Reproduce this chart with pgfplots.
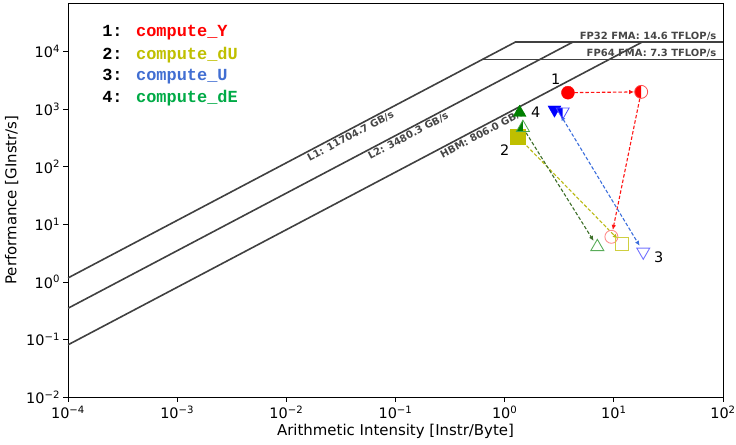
\documentclass[border=0pt]{standalone}
\usepackage{fontspec}
\setmainfont{DejaVu Sans}
\newfontfamily\monofont{Liberation Mono}
\usepackage{pgfplots}
\pgfplotsset{compat=1.18}
\usetikzlibrary{arrows.meta}

\definecolor{cr}{RGB}{255,0,0}
\definecolor{cy}{RGB}{191,191,0}
\definecolor{cb}{RGB}{0,0,255}
\definecolor{cg}{RGB}{0,128,0}
\definecolor{roof}{RGB}{64,64,64}
\definecolor{rooftxt}{RGB}{70,70,70}
\definecolor{lblue}{RGB}{65,110,210}
\definecolor{lgreen}{RGB}{0,170,70}
\definecolor{ared}{RGB}{255,20,20}
\definecolor{ablue}{RGB}{60,110,220}
\definecolor{agreen}{RGB}{60,110,40}
\definecolor{ayel}{RGB}{185,185,20}

% left half filled circle
\pgfdeclareplotmark{lhalfcircle}{%
  \pgfpathmoveto{\pgfpoint{0pt}{\pgfplotmarksize}}%
  \pgfpatharc{90}{270}{\pgfplotmarksize}%
  \pgfpathclose
  \pgfusepathqfill
  \pgfpathcircle{\pgfpointorigin}{\pgfplotmarksize}%
  \pgfusepathqstroke
}
% left half filled up triangle
\pgfdeclareplotmark{lhalftriangle}{%
  \pgfpathmoveto{\pgfpoint{0pt}{\pgfplotmarksize}}%
  \pgfpathlineto{\pgfpoint{-0.866\pgfplotmarksize}{-0.5\pgfplotmarksize}}%
  \pgfpathlineto{\pgfpoint{0pt}{-0.5\pgfplotmarksize}}%
  \pgfpathclose
  \pgfusepathqfill
  \pgfpathmoveto{\pgfpoint{0pt}{\pgfplotmarksize}}%
  \pgfpathlineto{\pgfpoint{-0.866\pgfplotmarksize}{-0.5\pgfplotmarksize}}%
  \pgfpathlineto{\pgfpoint{0.866\pgfplotmarksize}{-0.5\pgfplotmarksize}}%
  \pgfpathclose
  \pgfusepathqstroke
}
% left half filled down triangle
\pgfdeclareplotmark{lhalftriangledown}{%
  \pgfpathmoveto{\pgfpoint{0pt}{-\pgfplotmarksize}}%
  \pgfpathlineto{\pgfpoint{-0.866\pgfplotmarksize}{0.5\pgfplotmarksize}}%
  \pgfpathlineto{\pgfpoint{0pt}{0.5\pgfplotmarksize}}%
  \pgfpathclose
  \pgfusepathqfill
  \pgfpathmoveto{\pgfpoint{0pt}{-\pgfplotmarksize}}%
  \pgfpathlineto{\pgfpoint{-0.866\pgfplotmarksize}{0.5\pgfplotmarksize}}%
  \pgfpathlineto{\pgfpoint{0.866\pgfplotmarksize}{0.5\pgfplotmarksize}}%
  \pgfpathclose
  \pgfusepathqstroke
}

\begin{document}
\begin{tikzpicture}
\begin{axis}[name=ax,
  xmode=log, ymode=log, log basis x=10, log basis y=10,
  scale only axis, width=655bp, height=394bp,
  xmin=1e-4, xmax=1e2, ymin=1e-2, ymax=7e4,
  tick pos=left, tick align=outside,
  major tick length=4.5bp, minor tick length=2.5bp,
  every tick/.style={black, line width=0.7bp},
  xtick={1e-4,1e-3,1e-2,1e-1,1,10,100},
  xticklabels={10\textsuperscript{−4},10\textsuperscript{−3},10\textsuperscript{−2},10\textsuperscript{−1},10\textsuperscript{0},10\textsuperscript{1},10\textsuperscript{2}},
  ytick={1e-2,1e-1,1,10,100,1e3,1e4},
  yticklabels={10\textsuperscript{−2},10\textsuperscript{−1},10\textsuperscript{0},10\textsuperscript{1},10\textsuperscript{2},10\textsuperscript{3},10\textsuperscript{4}},
  xticklabel style={font=\fontsize{14.5}{16}\selectfont, yshift=-1bp},
  yticklabel style={font=\fontsize{14.5}{16}\selectfont},
  xlabel={Arithmetic Intensity [Instr/Byte]},
  ylabel={Performance [GInstr/s]},
  every axis x label/.style={at={(axis description cs:0.5,-0.0863)}, anchor=center, font=\fontsize{15}{18}\selectfont},
  every axis y label/.style={at={(axis description cs:-0.086,0.5)}, anchor=center, rotate=90, font=\fontsize{15}{18}\selectfont},
  axis line style={black, line width=0.8bp},
  clip=true,
]
% memory roofs
\addplot[roof, line width=1.6bp] coordinates {(1e-4,1.170470) (1.24739,14600)};
\addplot[roof, line width=1.6bp] coordinates {(1e-4,0.348030) (4.19504,14600)};
\addplot[roof, line width=1.6bp] coordinates {(1e-4,0.080600) (18.1141,14600)};
% compute roofs
\addplot[roof, line width=1.6bp] coordinates {(1.24739,14600) (100,14600)};
\addplot[roof, line width=1.6bp] coordinates {(0.62368,7300) (100,7300)};

% roof labels
\node[rooftxt, font=\fontsize{10}{11}\bfseries\selectfont, anchor=south east, inner sep=1.5bp] at (axis cs:90,14600) {FP32 FMA: 14.6 TFLOP/s};
\node[rooftxt, font=\fontsize{10}{11}\bfseries\selectfont, anchor=south east, inner sep=1.5bp] at (axis cs:90,7300) {FP64 FMA: 7.3 TFLOP/s};
\node[rooftxt, font=\fontsize{10}{11}\bfseries\selectfont, anchor=north, rotate=27.8, inner sep=2bp] at (axis cs:0.0365,427.2) {L1: 11704.7 GB/s};
\node[rooftxt, font=\fontsize{10}{11}\bfseries\selectfont, anchor=north, rotate=27.8, inner sep=2bp] at (axis cs:0.123,428.1) {L2: 3480.3 GB/s};
\node[rooftxt, font=\fontsize{10}{11}\bfseries\selectfont, anchor=north, rotate=27.8, inner sep=2bp] at (axis cs:0.59,475.5) {HBM: 806.0 GB/s};

% arrows
\addplot[ared, dash pattern=on 3.5bp off 2bp, line width=1.1bp, -{Latex[length=5bp,width=4.5bp]}, shorten <=6.5bp, shorten >=7bp] coordinates {(3.8,1937) (17.8,2000)};
\addplot[ared, dash pattern=on 3.5bp off 2bp, line width=1.1bp, -{Latex[length=5bp,width=4.5bp]}, shorten <=7bp, shorten >=7bp] coordinates {(17.8,2000) (9.5,6.07)};
\addplot[ayel, dash pattern=on 3.5bp off 2bp, line width=1.1bp, -{Latex[length=5bp,width=4.5bp]}, shorten <=7bp, shorten >=7bp] coordinates {(1.32,332) (12,4.58)};
\addplot[ablue, dash pattern=on 3.5bp off 2bp, line width=1.1bp, {Latex[length=5bp,width=4.5bp]}-{Latex[length=5bp,width=4.5bp]}, shorten <=5bp, shorten >=7bp] coordinates {(3.1,920) (18.6,3.33)};
\addplot[agreen, dash pattern=on 3.5bp off 2bp, line width=1.1bp, -{Latex[length=5bp,width=4.5bp]}, shorten <=6bp, shorten >=7bp] coordinates {(1.47,477) (7.06,4.06)};

% compute_Y
\addplot[only marks, mark=*, mark size=6.5bp, mark options={draw=cr, fill=cr}] coordinates {(3.8,1937)};
\addplot[only marks, mark=lhalfcircle, mark size=6.5bp, mark options={draw=cr!70, fill=cr, line width=0.8bp}] coordinates {(17.8,2000)};
\addplot[only marks, mark=o, mark size=6.5bp, mark options={draw=cr!45, line width=0.9bp}] coordinates {(9.5,6.07)};
% compute_dU
\addplot[only marks, mark=square*, mark size=7.5bp, mark options={draw=cy, fill=cy}] coordinates {(1.32,332)};
\addplot[only marks, mark=square, mark size=6.5bp, mark options={draw=cy!75, line width=1bp}] coordinates {(12,4.58)};
% compute_U
\addplot[only marks, mark=triangle*, mark size=7.5bp, mark options={draw=cb, fill=cb, rotate=180}] coordinates {(2.86,980)};
\addplot[only marks, mark=lhalftriangledown, mark size=7.5bp, mark options={draw=cb!70, fill=cb, line width=0.8bp}] coordinates {(3.4,905)};
\addplot[only marks, mark=triangle, mark size=7.5bp, mark options={draw=cb!55, line width=0.9bp, rotate=180}] coordinates {(18.6,3.33)};
% compute_dE
\addplot[only marks, mark=triangle*, mark size=7.5bp, mark options={draw=cg, fill=cg}] coordinates {(1.37,869)};
\addplot[only marks, mark=lhalftriangle, mark size=7.5bp, mark options={draw=cg!70, fill=cg, line width=0.8bp}] coordinates {(1.47,477)};
\addplot[only marks, mark=triangle, mark size=7.5bp, mark options={draw=cg!65, line width=0.9bp}] coordinates {(7.06,4.06)};

% point numbers
\node[font=\fontsize{14.5}{16}\selectfont] at (axis cs:2.94,3260) {1};
\node[font=\fontsize{14.5}{16}\selectfont] at (axis cs:1.0,198) {2};
\node[font=\fontsize{14.5}{16}\selectfont] at (axis cs:25.8,2.72) {3};
\node[font=\fontsize{14.5}{16}\selectfont] at (axis cs:1.93,869) {4};

% legend text
\node[anchor=west, inner sep=0pt, font=\monofont\bfseries\fontsize{17}{19}\selectfont] at (axis description cs:0.052,0.924) {1: \textcolor{cr}{compute\_Y}};
\node[anchor=west, inner sep=0pt, font=\monofont\bfseries\fontsize{17}{19}\selectfont] at (axis description cs:0.052,0.868) {2: \textcolor{cy}{compute\_dU}};
\node[anchor=west, inner sep=0pt, font=\monofont\bfseries\fontsize{17}{19}\selectfont] at (axis description cs:0.052,0.813) {3: \textcolor{lblue}{compute\_U}};
\node[anchor=west, inner sep=0pt, font=\monofont\bfseries\fontsize{17}{19}\selectfont] at (axis description cs:0.052,0.758) {4: \textcolor{lgreen}{compute\_dE}};
\end{axis}
\pgfresetboundingbox
\path[use as bounding box] ([shift={(-68bp,-47bp)}]ax.south west) rectangle ([shift={(13bp,3bp)}]ax.north east);
\end{tikzpicture}
\end{document}
